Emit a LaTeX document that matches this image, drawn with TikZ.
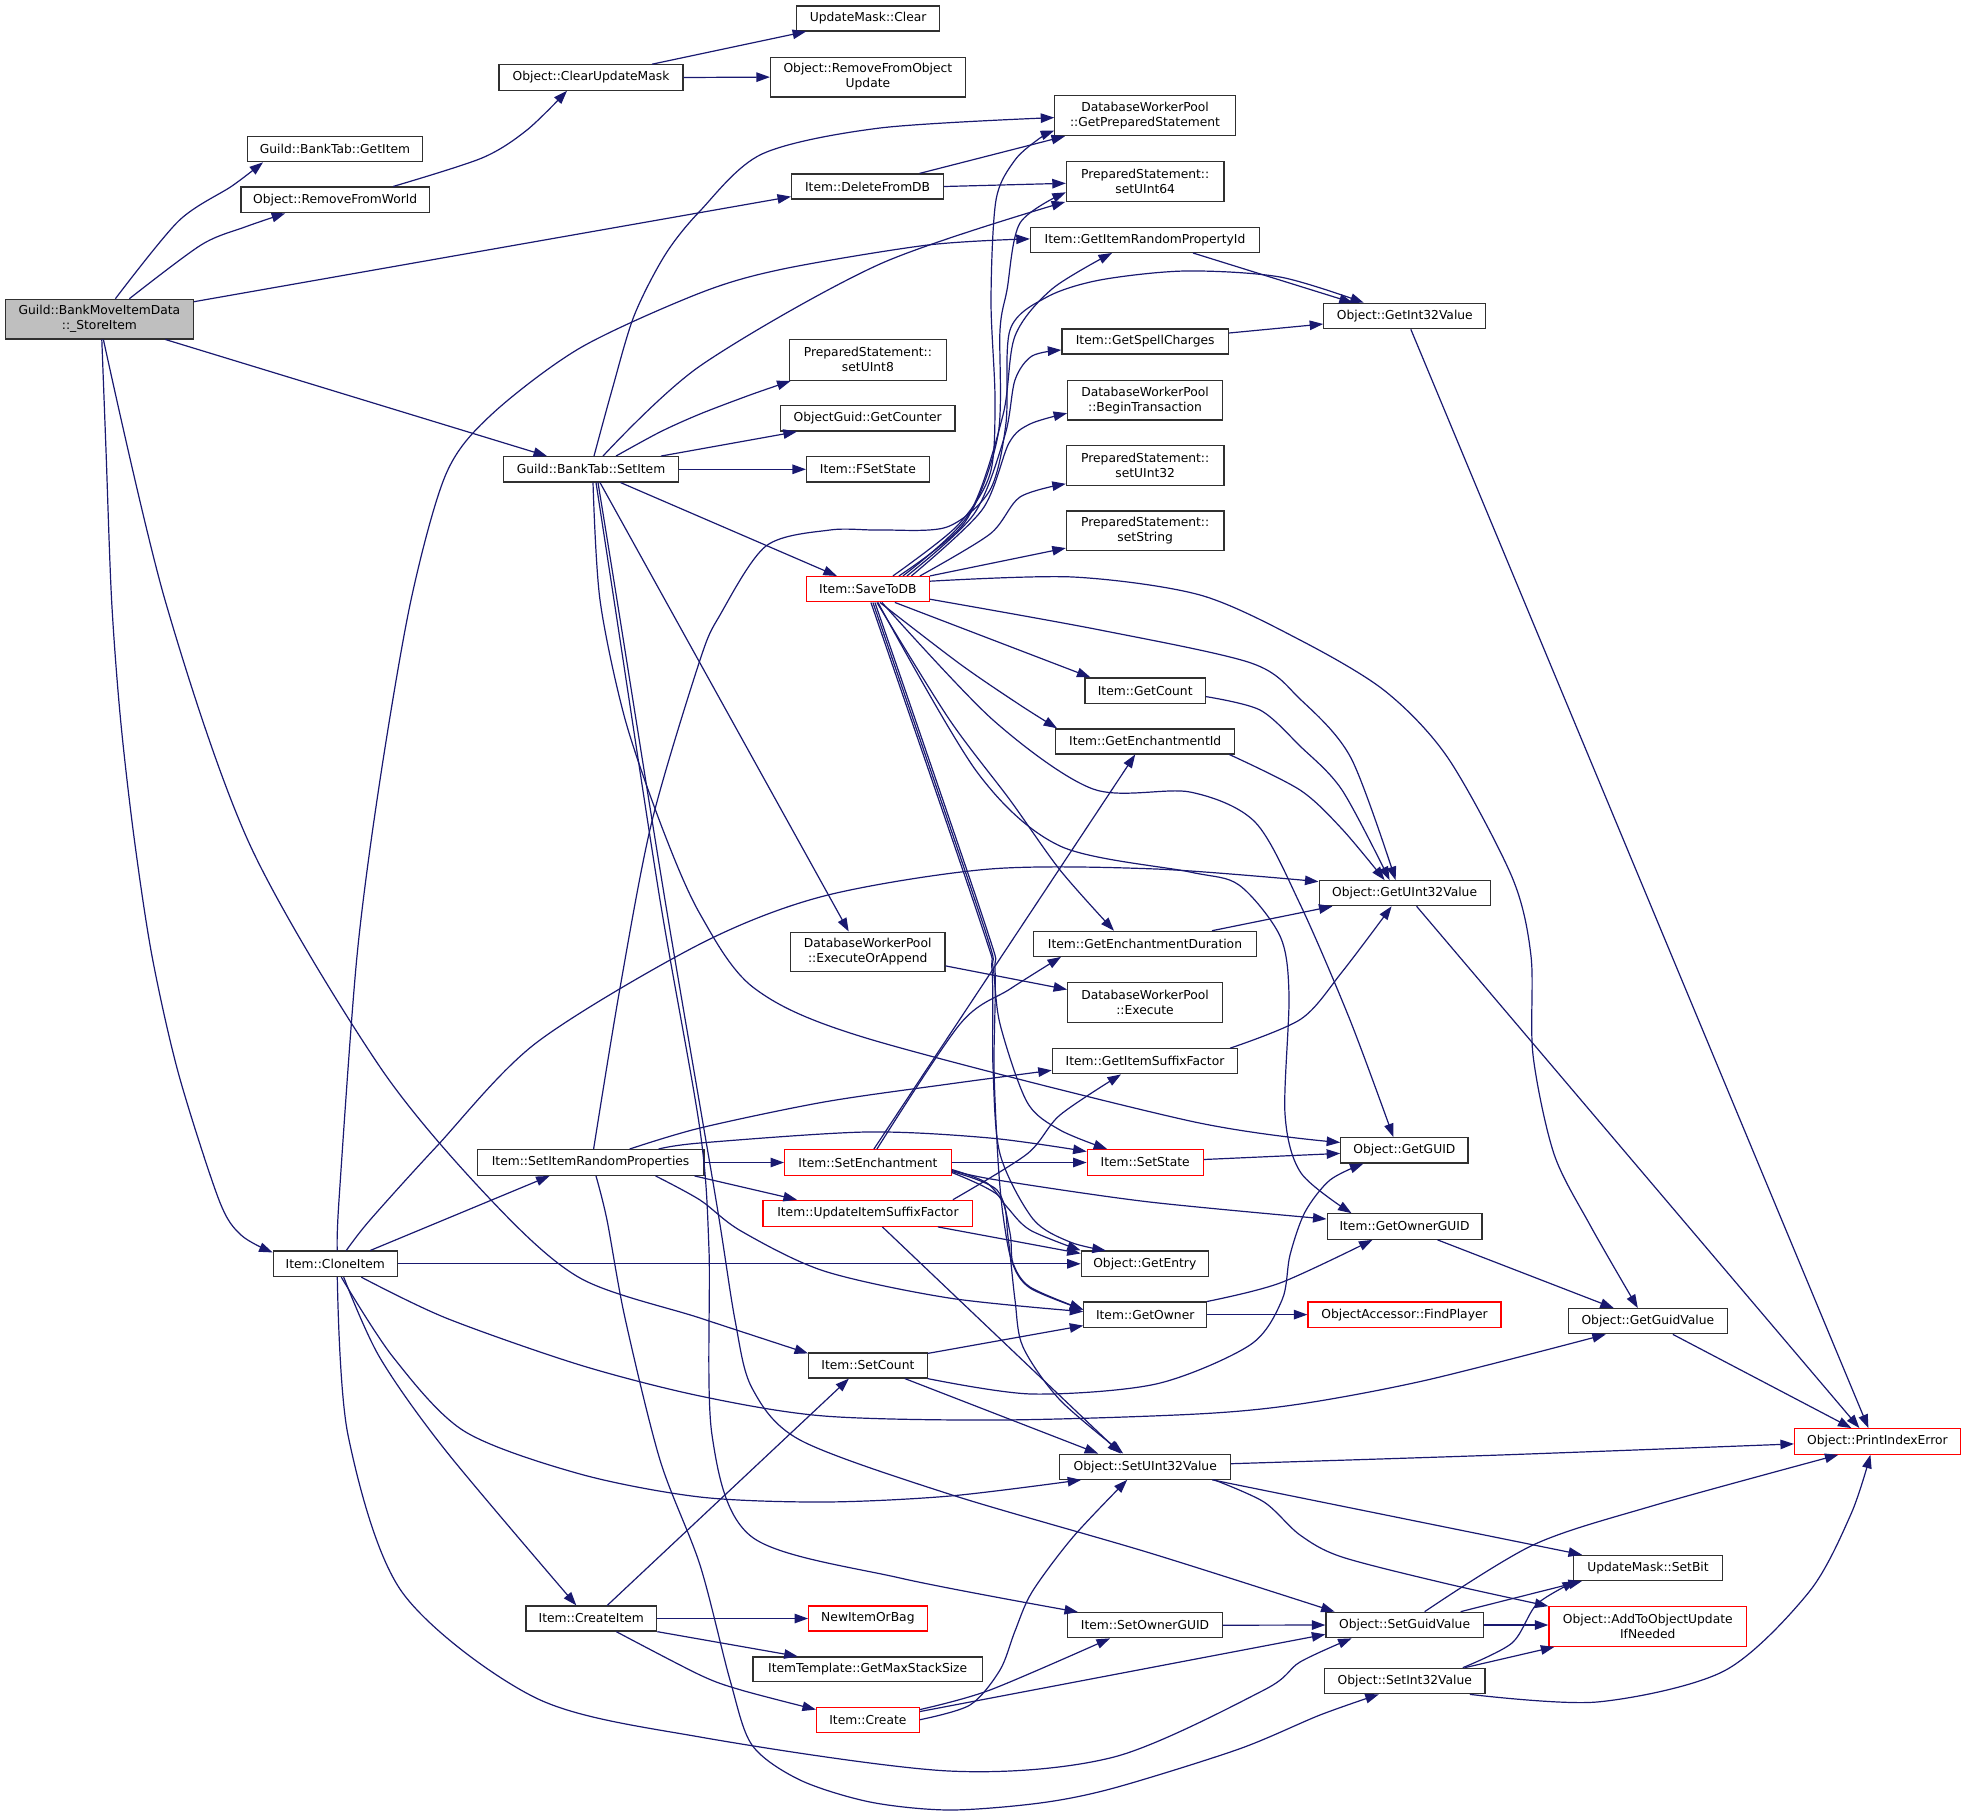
\documentclass[tikz,border=0pt]{standalone}
\usepackage{fontspec}
\setmainfont{DejaVu Sans}
\usetikzlibrary{arrows.meta}
\definecolor{edgec}{HTML}{191970}
\definecolor{grayfill}{HTML}{BFBFBF}
\definecolor{bord}{HTML}{303030}
\tikzset{
  nd/.style={draw=bord, fill=white, line width=1.2pt, inner sep=0pt, align=center,
             font=\fontsize{12.3}{15}\selectfont},
  rd/.style={nd, draw=red},
  edg/.style={draw=edgec, line width=1.2pt, -{Triangle[length=13.5pt,width=9.5pt]}},
}
\newcommand{\bx}[7]{\node[#1, minimum width=#5pt, minimum height=#6pt] (#2) at (#3,#4) {#7};}
\begin{document}
\begin{tikzpicture}[x=1pt,y=-1pt]
\useasboundingbox (0,0) rectangle (1965,1815);
% ---------- nodes ----------
\bx{nd,fill=grayfill}{S}{99.4}{319.1}{188}{39.6}{Guild::BankMoveItemData\\::\_StoreItem}
\bx{nd}{GI}{335}{149.2}{174.5}{25}{Guild::BankTab::GetItem}
\bx{nd}{RFW}{335.2}{199.9}{188.5}{25.7}{Object::RemoveFromWorld}
\bx{nd}{CUM}{591}{77.5}{184}{25.4}{Object::ClearUpdateMask}
\bx{nd}{SI}{591}{469.3}{175}{25.3}{Guild::BankTab::SetItem}
\bx{nd}{UMC}{868.1}{18.4}{143}{25}{UpdateMask::Clear}
\bx{nd}{RFOU}{867.9}{77.1}{194.8}{39.6}{Object::RemoveFromObject\\Update}
\bx{nd}{GPS}{1145}{115.6}{180.3}{40}{DatabaseWorkerPool\\::GetPreparedStatement}
\bx{nd}{DFDB}{867.6}{186.5}{152}{25}{Item::DeleteFromDB}
\bx{nd}{SU64}{1145.2}{181.3}{157.6}{40}{PreparedStatement::\\setUInt64}
\bx{nd}{GIRP}{1145}{239.9}{229.2}{25}{Item::GetItemRandomPropertyId}
\bx{nd}{GI32}{1404.8}{316}{162}{25.3}{Object::GetInt32Value}
\bx{nd}{GSC}{1145.2}{341.5}{166.6}{25}{Item::GetSpellCharges}
\bx{nd}{SU8}{867.9}{359.9}{157.5}{41}{PreparedStatement::\\setUInt8}
\bx{nd}{GC}{867.7}{418.2}{174.5}{25.7}{ObjectGuid::GetCounter}
\bx{nd}{FSS}{867.9}{469.3}{122.7}{25.3}{Item::FSetState}
\bx{nd}{BT}{1145}{400.2}{154.6}{39.5}{DatabaseWorkerPool\\::BeginTransaction}
\bx{nd}{SU32}{1145.2}{465.2}{157.6}{40}{PreparedStatement::\\setUInt32}
\bx{nd}{SS}{1145.2}{530.7}{157.6}{39.5}{PreparedStatement::\\setString}
\bx{rd}{STD}{867.9}{589.2}{122.7}{25.3}{Item::SaveToDB}
\bx{nd}{GCnt}{1145.2}{690.6}{120.3}{25.3}{Item::GetCount}
\bx{nd}{GEI}{1145.2}{741.4}{179}{25}{Item::GetEnchantmentId}
\bx{nd}{GU32}{1404.6}{893.2}{171}{25}{Object::GetUInt32Value}
\bx{nd}{EOA}{867.7}{951.9}{154.6}{39.6}{DatabaseWorkerPool\\::ExecuteOrAppend}
\bx{nd}{GED}{1145}{943.8}{222.6}{25}{Item::GetEnchantmentDuration}
\bx{nd}{EX}{1145}{1002.5}{154.6}{39.6}{DatabaseWorkerPool\\::Execute}
\bx{nd}{GISF}{1145}{1061.3}{185.3}{25}{Item::GetItemSuffixFactor}
\bx{nd}{SIRP}{590.6}{1162.5}{226.8}{25.7}{Item::SetItemRandomProperties}
\bx{rd}{SE}{867.9}{1162.5}{166.6}{25.7}{Item::SetEnchantment}
\bx{rd}{SST}{1145.2}{1162.5}{116}{25.7}{Item::SetState}
\bx{nd}{GG}{1404.4}{1150.4}{127.3}{25.3}{Object::GetGUID}
\bx{rd}{UISF}{867.9}{1213.3}{209.7}{26}{Item::UpdateItemSuffixFactor}
\bx{nd}{GOG}{1404.5}{1226.5}{154.8}{25.5}{Item::GetOwnerGUID}
\bx{nd}{CI}{335.3}{1263.8}{124.1}{25.5}{Item::CloneItem}
\bx{nd}{GE}{1144.8}{1263.8}{127}{25.5}{Object::GetEntry}
\bx{nd}{GO}{1145.2}{1314.6}{122.7}{25.1}{Item::GetOwner}
\bx{rd}{FP}{1404.5}{1314.6}{193}{25.1}{ObjectAccessor::FindPlayer}
\bx{nd}{GGV}{1647.8}{1321.2}{158.6}{25.1}{Object::GetGuidValue}
\bx{nd}{SC}{867.9}{1365.5}{118.5}{25}{Item::SetCount}
\bx{rd}{PIE}{1877.4}{1441.4}{165.8}{25.5}{Object::PrintIndexError}
\bx{nd}{SU32V}{1145.2}{1466.7}{170.8}{25.1}{Object::SetUInt32Value}
\bx{nd}{SB}{1648}{1567.9}{149.7}{25.1}{UpdateMask::SetBit}
\bx{nd}{CRI}{591.3}{1618.5}{130.8}{25.1}{Item::CreateItem}
\bx{rd}{NIB}{867.9}{1618.5}{118.5}{25.1}{NewItemOrBag}
\bx{nd}{SOG}{1145}{1625.2}{154.6}{25.1}{Item::SetOwnerGUID}
\bx{nd}{SGV}{1404.6}{1625}{157.3}{25.5}{Object::SetGuidValue}
\bx{rd}{ATOU}{1647.8}{1626.5}{197.7}{39.6}{Object::AddToObjectUpdate\\IfNeeded}
\bx{nd}{GMSS}{867.7}{1669.3}{229.3}{24.7}{ItemTemplate::GetMaxStackSize}
\bx{nd}{SI32}{1404.8}{1681}{160.3}{25.5}{Object::SetInt32Value}
\bx{rd}{CR}{867.9}{1719.7}{102.8}{25.1}{Item::Create}
% ---------- edges from _StoreItem ----------
\draw[edg] plot[smooth] coordinates {([xshift=16pt]S.north) (178.6,221) (232,186) ([xshift=-72pt]GI.south)};
\draw[edg] plot[smooth] coordinates {([xshift=30pt]S.north) (201,245) (245,227) ([xshift=-50pt]RFW.south)};
\draw[edg] ([yshift=-3pt]S.north east) -- ([yshift=3pt]DFDB.south west);
\draw[edg] ([xshift=66pt]S.south) -- ([xshift=-44pt]SI.north);
\draw[edg] plot[smooth] coordinates {([xshift=2.4pt]S.south) (106,450) (111.6,600) (120.5,719) (134,837) (152,956) (178.6,1074) (219,1200) (241,1235) ([yshift=-2pt]CI.north west)};
\draw[edg] plot[smooth] coordinates {([xshift=4pt]S.south) (165,600) (250,845) (380,1067) (491,1200) (580,1278) (700,1318) ([yshift=-1pt]SC.north west)};
% ---------- misc top ----------
\draw[edg] plot[smooth] coordinates {([xshift=58pt]RFW.north) (482,158) (527,130) ([xshift=-24pt]CUM.south)};
\draw[edg] ([xshift=61pt]CUM.north) -- ([xshift=-62pt]UMC.south);
\draw[edg] (CUM.east) -- (RFOU.west);
\draw[edg] ([xshift=52pt]DFDB.north) -- ([xshift=-80pt]GPS.south);
\draw[edg] (DFDB.east) -- ([yshift=-2pt]SU64.west);
% ---------- BankTab::SetItem ----------
\draw[edg] plot[smooth] coordinates {([xshift=3pt]SI.north) (612,390) (634,316) (665,255) (700,211) (762,154) (880,128) ([yshift=-2pt]GPS.west)};
\draw[edg] plot[smooth] coordinates {([xshift=12pt]SI.north) (700,366) (880,264) ([xshift=-80pt]SU64.south)};
\draw[edg] plot[smooth] coordinates {([xshift=25pt]SI.north) (660,432) (700,414) (750,395) ([xshift=2pt]SU8.south west)};
\draw[edg] ([xshift=70pt]SI.north) -- ([xshift=17pt]GC.south west);
\draw[edg] (SI.east) -- (FSS.west);
\draw[edg] ([xshift=29.5pt]SI.south) -- ([xshift=-31pt]STD.north);
\draw[edg] ([xshift=9pt]SI.south) -- ([xshift=-19pt]EOA.north);
\draw[edg] plot[smooth] coordinates {([xshift=2pt]SI.south) (600,600) (625,719) (663,830) (700,914) (754,988) (866,1038) (1190,1121) ([yshift=8pt]GG.west)};
\draw[edg] plot[smooth] coordinates {([xshift=5pt]SI.south) (614,600) (660,900) (700,1130) (709,1250) (712,1435) (752,1537) (900,1578) ([xshift=-67pt]SOG.north)};
\draw[edg] plot[smooth] coordinates {([xshift=7pt]SI.south) (617,600) (665,900) (716,1200) (735,1320) (752,1388) (800,1440) (949,1494) (1150,1553) ([xshift=-70pt]SGV.north)};
% ---------- CloneItem ----------
\draw[edg] plot[smooth] coordinates {([xshift=2pt]CI.north) (339,1200) (357,956) (380,780) (411,600) (446,474) (491,415) (580,348) (700,293) (783,269) (928,245) ([yshift=1pt]GIRP.west)};
\draw[edg] plot[smooth] coordinates {([xshift=11pt]CI.north) (370,1220) (437,1146) (536,1043) (700,944) (824,896) (990,869) (1156,869) ([yshift=-1.5pt]GU32.north west)};
\draw[edg] ([xshift=35pt]CI.north) -- ([xshift=-41pt]SIRP.south);
\draw[edg] (CI.east) -- (GE.west);
\draw[edg] plot[smooth] coordinates {([xshift=26pt]CI.south) (446,1318) (580,1365) (700,1396) (824,1416) (1000,1420) (1197,1414) (1300,1404) (1427,1380) ([xshift=-42pt]GGV.south)};
\draw[edg] plot[smooth] coordinates {([xshift=6pt]CI.south) (393,1357) (464,1431) (580,1474) (700,1497) (824,1502) (950,1496) ([xshift=-64pt]SU32V.south)};
\draw[edg] plot[smooth] coordinates {([xshift=8.4pt]CI.south) (379.5,1357) (446,1451) ([xshift=-15pt]CRI.north)};
\draw[edg] plot[smooth] coordinates {([xshift=2pt]CI.south) (348,1435) (402,1592) (536,1698) (700,1737) (949,1771) (1114,1757) (1264,1690) (1300,1662) ([xshift=-53pt]SGV.south)};
% ---------- CreateItem / Create / SetCount ----------
\draw[edg] ([xshift=16pt]CRI.north) -- ([xshift=-19pt]SC.south);
\draw[edg] (CRI.east) -- (NIB.west);
\draw[edg] (CRI.south east) -- ([xshift=-70pt]GMSS.north);
\draw[edg] plot[smooth] coordinates {([xshift=25pt]CRI.south) (700,1675) (741,1690) ([yshift=-3pt]CR.north west)};
\draw[edg] plot[smooth] coordinates {([yshift=-3pt]CR.north east) (990,1690) ([xshift=-35pt]SOG.south)};
\draw[edg] ([yshift=-5pt]CR.north east) -- ([yshift=4pt]SGV.south west);
\draw[edg] plot[smooth] coordinates {(CR.east) (970,1705) (1000,1670) (1015,1631) (1032,1592) (1073,1537) ([xshift=-18pt]SU32V.south)};
\draw[edg] ([yshift=-1pt]SC.north east) -- ([yshift=-11pt]GO.west);
\draw[edg] plot[smooth] coordinates {(SC.south east) (1031.6,1394) (1156,1384) (1250,1345) (1282,1300) (1290,1255) (1305,1212) (1330,1180) ([xshift=-41pt]GG.south)};
\draw[edg] ([xshift=37pt]SC.south) -- ([xshift=-47pt]SU32V.north);
\draw[edg] (SOG.east) -- (SGV.west);
% ---------- SetItemRandomProperties ----------
\draw[edg] plot[smooth] coordinates {([xshift=3pt]SIRP.north) (620,988) (652,821) (700,660) (720,615) (766,546) (830,530) (880,530) (947,527) (990,490) (1006,423) (1010,330) (1047,297) (1100,280) (1185,271) (1280,277) ([xshift=-41pt]GI32.north)};
\draw[edg] plot[smooth] coordinates {([xshift=39pt]SIRP.north) (700,1128) (824,1102) (949,1084) ([yshift=-9pt]GISF.west)};
\draw[edg] plot[smooth] coordinates {([xshift=68pt]SIRP.north) (700,1143) (866,1132) (990,1138) ([yshift=11pt]SST.west)};
\draw[edg] (SIRP.east) -- (SE.west);
\draw[edg] ([xshift=-10pt]SIRP.south east) -- ([xshift=-71pt]UISF.north);
\draw[edg] plot[smooth] coordinates {([xshift=65pt]SIRP.south) (700,1200) (741,1231) (824,1271) (949,1298) ([yshift=3pt]GO.west)};
\draw[edg] plot[smooth] coordinates {([xshift=5.4pt]SIRP.south) (607,1220) (625,1318) (660,1460) (700,1565) (730,1680) (752,1745) (800,1780) (870,1802) (949,1810) (1040,1803) (1114,1788) (1239,1749) (1320,1715) ([xshift=-26pt]SI32.south)};
% ---------- SetEnchantment ----------
\draw[edg] ([xshift=6pt]SE.north) -- ([xshift=-10pt]GEI.south);
\draw[edg] plot[smooth] coordinates {([xshift=9pt]SE.north) (960,1024) (1010,989) ([xshift=-84pt]GED.south)};
\draw[edg] (SE.east) -- (SST.west);
\draw[edg] plot[smooth] coordinates {([yshift=-8pt]SE.east) (997,1180) (1147,1201.7) ([yshift=7.5pt]GOG.west)};
\draw[edg] plot[smooth] coordinates {([yshift=-7pt]SE.east) (987,1183) (1007,1207) (1030,1230) (GE.north west)};
\draw[edg] plot[smooth] coordinates {([yshift=-9pt]SE.east) (997,1190) (1010,1233) (1013,1263) (1030,1287) ([yshift=5pt]GO.west)};
\draw[edg] plot[smooth] coordinates {([yshift=-10pt]SE.east) (1000,1197) (1008,1237) (1015,1300) (1023,1347) (1060,1400) ([xshift=-22pt]SU32V.north)};
% ---------- UpdateItemSuffixFactor ----------
\draw[edg] plot[smooth] coordinates {([xshift=85pt]UISF.north) (1027,1154) (1060,1115) ([xshift=-24pt]GISF.south)};
\draw[edg] ([xshift=70pt]UISF.south) -- ([yshift=-3pt]GE.north west);
\draw[edg] ([xshift=14.5pt]UISF.south) -- ([xshift=-24.5pt]SU32V.north);
% ---------- SaveToDB ----------
\draw[edg] plot[smooth] coordinates {([xshift=25pt]STD.north) (957,526) (990,474) (995,400) (991,300) (996,200) (1015,160) (1040,138) ([yshift=-15pt]GPS.west)};
\draw[edg] plot[smooth] coordinates {([xshift=31pt]STD.north) (965,522) (998,435) (1000,330) (1007,290) (1020,223) ([yshift=-11pt]SU64.west)};
\draw[edg] plot[smooth] coordinates {([xshift=35pt]STD.north) (969,514) (1003,415) (1015,336) (1052,289) ([xshift=-33pt]GIRP.south)};
\draw[edg] plot[smooth] coordinates {([xshift=39pt]STD.north) (974,514) (1005,435) (1015,380) (1032,356) ([yshift=-8.5pt]GSC.west)};
\draw[edg] plot[smooth] coordinates {([xshift=43.5pt]STD.north) (982,510) (1009,443) (1030,424) ([yshift=-13pt]BT.west)};
\draw[edg] plot[smooth] coordinates {([xshift=52pt]STD.north) (990,534) (1020,497) ([yshift=2pt]SU32.south west)};
\draw[edg] (STD.north east) -- ([yshift=3pt]SS.south west);
\draw[edg] plot[smooth] coordinates {([yshift=8pt]STD.east) (1073,577) (1200,595) (1300,640) (1385,691) (1448,758) (1512,877) (1531,956) (1533,1055) (1554,1154) (1590,1225) ([xshift=-10pt]GGV.north)};
\draw[edg] plot[smooth] coordinates {([yshift=-10pt]STD.east) (1100,630) (1251,663) (1300,699) (1351,758) ([xshift=-9pt]GU32.north)};
\draw[edg] ([xshift=27pt]STD.south) -- ([xshift=6pt]GCnt.north west);
\draw[edg] plot[smooth] coordinates {([xshift=12pt]STD.south) (960,664) (1020,705) ([xshift=2pt]GEI.north west)};
\draw[edg] plot[smooth] coordinates {([xshift=9pt]STD.south) (949,719) (1010,800) (1060,870) ([xshift=-31pt]GED.north)};
\draw[edg] plot[smooth] coordinates {([xshift=14pt]STD.south) (993,720) (1093,789) (1190,792) (1255,822) (1300,904) (1350,1020) ([xshift=-11pt]GG.north)};
\draw[edg] plot[smooth] coordinates {([xshift=10pt]STD.south) (977,772) (1060,846) (1190,872) (1239,885) (1280,936) (1289,995) (1285,1114) (1301,1173) ([xshift=-53pt]GOG.north)};
\draw[edg] plot[smooth] coordinates {([xshift=5pt]STD.south) (983,924) (993,967) (1000,1024) (1027,1102) (1060,1130) ([xshift=-38pt]SST.north)};
\draw[edg] plot[smooth] coordinates {([xshift=3pt]STD.south) (981,924) (992,970) (993,1067) (1000,1154) (1033,1219) (1070,1242) ([xshift=-39pt]GE.north)};
\draw[edg] plot[smooth] coordinates {([xshift=7pt]STD.south) (985,924) (995,970) (994,1067) (998,1160) (1003,1215) (1012,1262) (1030,1288) ([yshift=5pt]GO.west)};
% ---------- leaves ----------
\draw[edg] ([yshift=-14pt]EOA.east) -- ([yshift=13pt]EX.west);
\draw[edg] ([xshift=48pt]GIRP.south) -- ([xshift=-52pt]GI32.north);
\draw[edg] ([yshift=8.5pt]GSC.east) -- ([yshift=-8pt]GI32.west);
\draw[edg] plot[smooth] coordinates {([yshift=-6pt]GCnt.east) (1260,710) (1300,746) (1342,790) ([xshift=-15pt]GU32.north)};
\draw[edg] plot[smooth] coordinates {([xshift=-6pt]GEI.south east) (1300,790) (1342,829) ([xshift=-20pt]GU32.north)};
\draw[edg] ([xshift=67pt]GED.north) -- ([xshift=14pt]GU32.south west);
\draw[edg] plot[smooth] coordinates {([xshift=85pt]GISF.north) (1301,1019) (1342,972) ([xshift=-13pt]GU32.south)};
\draw[edg] ([xshift=6pt]GI32.south) -- ([xshift=-9pt]PIE.north);
\draw[edg] ([xshift=12pt]GU32.south) -- ([xshift=-18pt]PIE.north);
\draw[edg] ([yshift=3pt]SST.east) -- ([yshift=-3pt]GG.west);
\draw[edg] plot[smooth] coordinates {(GO.north east) (1280,1283) ([xshift=-32pt]GOG.south)};
\draw[edg] (GO.east) -- (FP.west);
\draw[edg] ([xshift=33pt]GOG.south) -- ([xshift=-34pt]GGV.north);
\draw[edg] ([xshift=25pt]GGV.south) -- ([xshift=-26pt]PIE.north);
\draw[edg] plot[smooth] coordinates {([yshift=3pt]SU32V.east) (1500,1455) ([yshift=-2.5pt]PIE.west)};
\draw[edg] ([xshift=67pt]SU32V.south) -- ([xshift=-66pt]SB.north);
\draw[edg] plot[smooth] coordinates {([xshift=69pt]SU32V.south) (1264,1502) (1300,1535) (1342,1557) (1448,1584) (ATOU.north west)};
\draw[edg] plot[smooth] coordinates {([xshift=20pt]SGV.north) (1533,1545) (1652,1506) ([xshift=-39pt]PIE.south)};
\draw[edg] ([xshift=56pt]SGV.north) -- ([xshift=-66pt]SB.south);
\draw[edg] (SGV.east) -- (SGV.east -| ATOU.west);
\draw[edg] plot[smooth] coordinates {([xshift=58pt]SI32.north) (1512,1643) (1537,1604) ([xshift=-72pt]SB.south)};
\draw[edg] ([xshift=60pt]SI32.north) -- ([xshift=6pt]ATOU.south west);
\draw[edg] plot[smooth] coordinates {([xshift=65pt]SI32.south) (1597,1702) (1724,1671) (1809,1592) (1851,1514) ([xshift=-7pt]PIE.south)};
\end{tikzpicture}
\end{document}
